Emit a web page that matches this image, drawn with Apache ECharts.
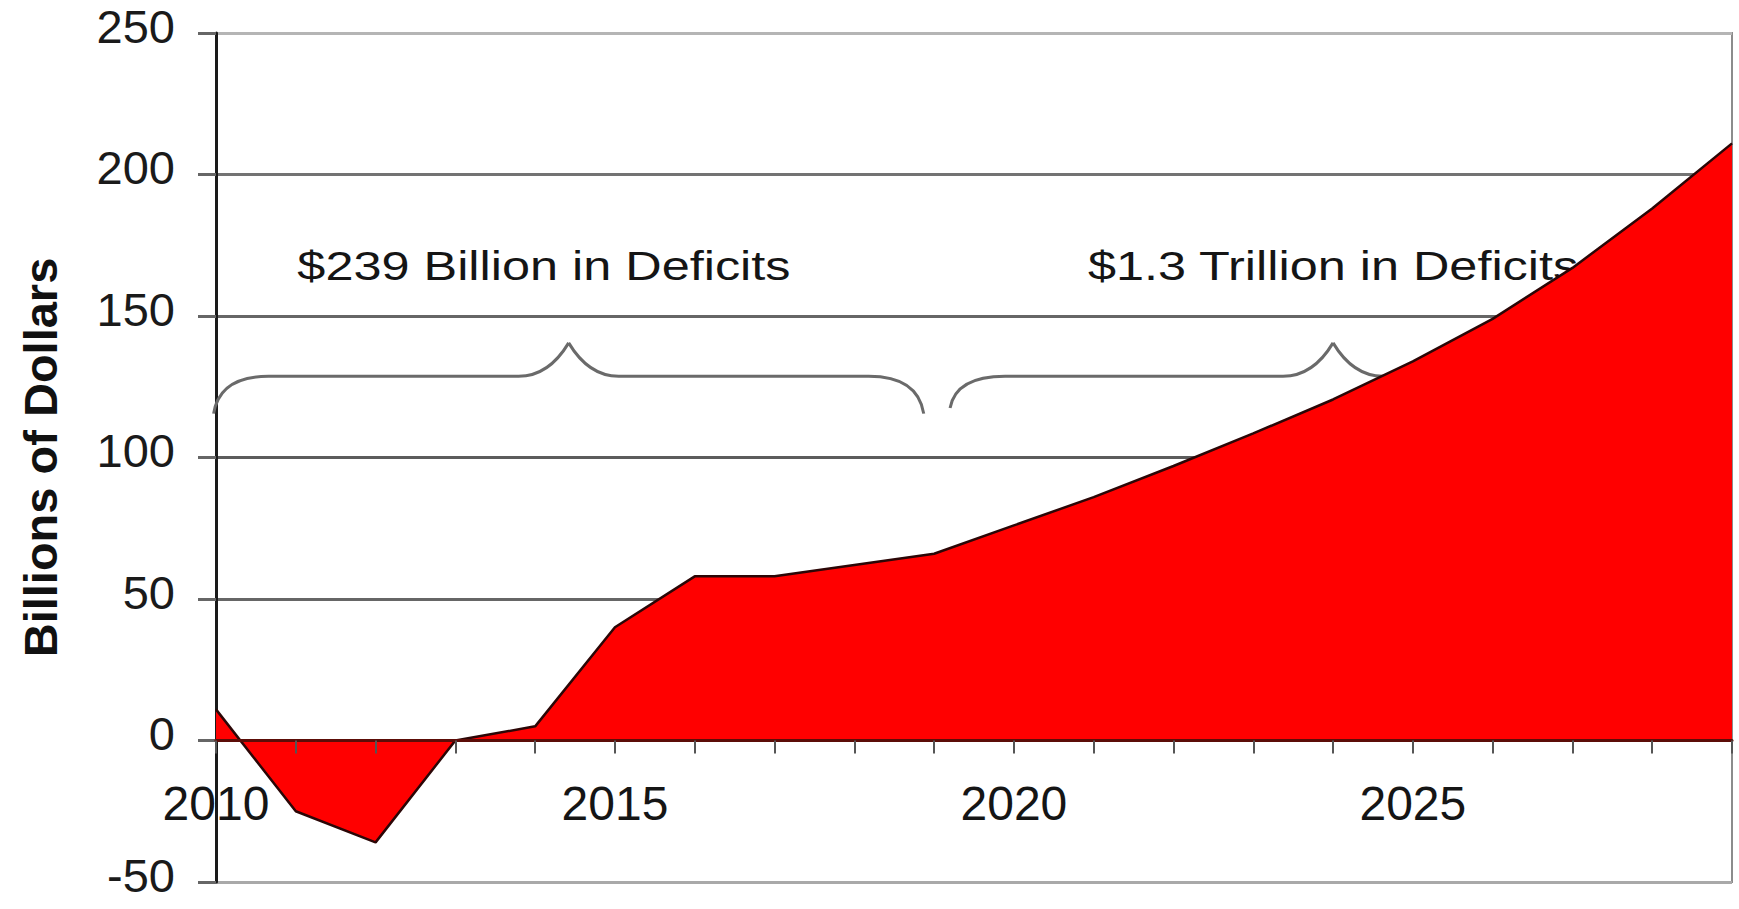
<!DOCTYPE html>
<html>
<head>
<meta charset="utf-8">
<script src="https://cdn.jsdelivr.net/npm/echarts/dist/echarts.min.js"></script>
<style>
html,body{margin:0;padding:0;background:#ffffff;}
#chart{width:1739px;height:909px;}
</style>
</head>
<body>
<div id="chart"></div>
<script>
// ---- data ----
const years = [2010,2011,2012,2013,2014,2015,2016,2017,2018,2019,2020,2021,2022,2023,2024,2025,2026,2027,2028,2029];
const deficits = [11,-25,-36,0,5,40,58,58,62,66,76,86,97,108.5,120.5,134,149,167,188,211];
const xLabelYears = [2010,2015,2020,2025];
const yMin = -50, yMax = 250, yStep = 50;
const yAxisTitle = 'Billions of Dollars';

// annotations (braces spanning year ranges, with their captions)
const annotationTexts = ['$239 Billion in Deficits', '$1.3 Trillion in Deficits'];
const braceStartYear = [2009.97, 2019.2];
const braceTipYear   = [2014.42, 2024.0];
const braceEndYear   = [2018.87, 2028.8];
const braceFootValue = [115.5, 117.5];
const braceBarValue  = [128.7, 128.7];
const braceTipValue  = [140.5, 140.5];
const captionYear    = [2014.11, 2024.0];
const captionValue   = [167.6, 167.6];

const FONT = '"Liberation Sans", Arial, Helvetica, sans-serif';

const chart = echarts.init(document.getElementById('chart'), null, {renderer: 'svg'});

const braceData = annotationTexts.map((t, i) => [
  braceStartYear[i], braceFootValue[i], braceTipYear[i], braceBarValue[i],
  braceEndYear[i], braceTipValue[i], captionYear[i], captionValue[i]
]);

function renderBrace(params, api) {
  const i = params.dataIndex;
  const x0 = api.value(0), foot = api.value(1), xt = api.value(2), bar = api.value(3);
  const x1 = api.value(4), tipV = api.value(5), cx = api.value(6), cy = api.value(7);
  const a = api.coord([x0, foot]);
  const b = api.coord([x0, bar]);
  const t = api.coord([xt, tipV]);
  const tb = api.coord([xt, bar]);
  const e = api.coord([x1, foot]);
  const eb = api.coord([x1, bar]);
  const rEnd = 55, rTip = 50, cEnd = 6, cTip = 20;
  const yb = b[1];
  const d =
    'M' + a[0] + ',' + a[1] +
    ' Q' + (a[0] + cEnd) + ',' + yb + ' ' + (a[0] + rEnd) + ',' + yb +
    ' L' + (tb[0] - rTip) + ',' + yb +
    ' Q' + (tb[0] - cTip) + ',' + yb + ' ' + t[0] + ',' + t[1] +
    ' M' + t[0] + ',' + t[1] +
    ' Q' + (tb[0] + cTip) + ',' + yb + ' ' + (tb[0] + rTip) + ',' + yb +
    ' L' + (eb[0] - rEnd) + ',' + yb +
    ' Q' + (e[0] - cEnd) + ',' + yb + ' ' + e[0] + ',' + e[1];
  const c = api.coord([cx, cy]);
  return {
    type: 'group',
    children: [
      {
        type: 'path',
        shape: {pathData: d},
        style: {fill: 'none', stroke: '#6a6a6a', lineWidth: 3}
      },
      {
        type: 'text',
        x: c[0], y: c[1],
        scaleX: 1.23,
        style: {
          text: annotationTexts[i],
          font: '41px ' + FONT,
          fill: '#151515',
          align: 'center',
          verticalAlign: 'middle'
        }
      }
    ]
  };
}

const option = {
  animation: false,
  backgroundColor: '#ffffff',
  grid: {
    left: 216, right: 7, top: 33, bottom: 27,
    show: true, borderColor: '#8c8c8c', borderWidth: 2,
    containLabel: false, outerBoundsMode: 'none'
  },
  xAxis: [
    {
      type: 'value',
      min: years[0], max: years[years.length - 1], interval: 1,
      z: 3,
      axisLine: {show: true, onZero: true, lineStyle: {color: '#5c0d08', width: 3}},
      axisTick: {show: true, length: 13, lineStyle: {color: '#555555', width: 2}},
      axisLabel: {show: false},
      splitLine: {show: false}
    },
    {
      // label-only axis placed on the zero line
      type: 'value',
      position: 'bottom',
      offset: -141,
      min: years[0], max: years[years.length - 1], interval: 1,
      z: 3,
      axisLine: {show: false, onZero: false},
      axisTick: {show: false},
      axisLabel: {
        show: true, margin: 38, fontSize: 48, fontFamily: FONT, color: '#151515',
        formatter: v => xLabelYears.indexOf(v) >= 0 ? String(v) : ''
      },
      splitLine: {show: false}
    }
  ],
  yAxis: {
    type: 'value',
    min: yMin, max: yMax, interval: yStep,
    name: yAxisTitle,
    nameLocation: 'middle',
    nameGap: 152,
    nameTextStyle: {fontSize: 47, fontWeight: 'bold', fontFamily: FONT, color: '#111111'},
    axisLine: {show: true, onZero: false, lineStyle: {color: '#1a1a1a', width: 3}},
    axisTick: {show: true, length: 18, lineStyle: {color: '#666666', width: 3}},
    axisLabel: {
      margin: 41, fontSize: 47, fontFamily: FONT, color: '#1a1a1a',
      verticalAlign: 'bottom', lineHeight: 14
    },
    splitLine: {
      show: true,
      lineStyle: {color: ['#a9a9a9', '#444444', '#666666', '#5c5c5c', '#666666', '#737373', '#b5b5b5'], width: 3}
    }
  },
  series: [
    {
      type: 'custom',
      name: 'braces',
      coordinateSystem: 'cartesian2d',
      xAxisIndex: 0,
      renderItem: renderBrace,
      data: braceData,
      silent: true,
      clip: false,
      z: 1
    },
    {
      type: 'line',
      name: 'Deficit',
      xAxisIndex: 0,
      data: years.map((y, i) => [y, deficits[i]]),
      symbol: 'none',
      lineStyle: {color: '#2b0606', width: 2.5},
      areaStyle: {color: '#ff0000', opacity: 1, origin: 0},
      z: 2
    }
  ]
};
chart.setOption(option);
</script>
</body>
</html>
